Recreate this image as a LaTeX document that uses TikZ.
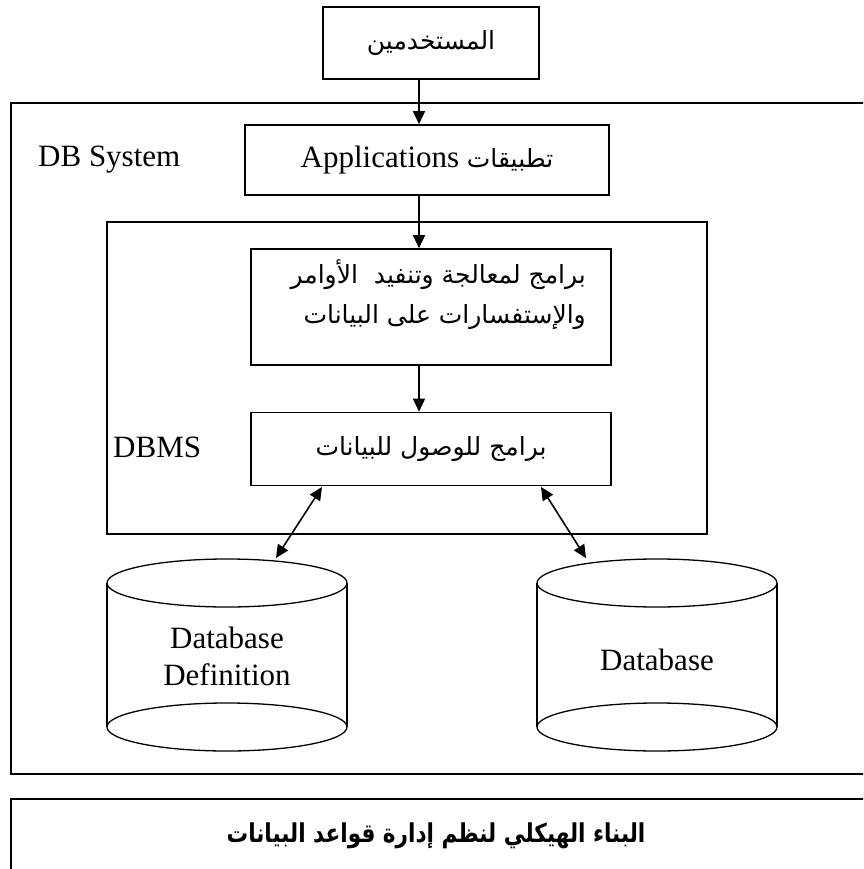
\documentclass[tikz,border=0pt]{standalone}
\usepackage{fontspec}
\setmainfont{Liberation Serif}
\newfontfamily\arabicfont[Script=Arabic]{DejaVu Sans}
\newfontfamily\arabicheadfont[Script=Arabic, FakeStretch=0.83]{DejaVu Sans}
\TeXXeTstate=1
\usetikzlibrary{arrows.meta}

\begin{document}
\begin{tikzpicture}[x=1pt,y=-1pt,
  frame/.style={draw, line width=1.8pt},
  box/.style={draw, line width=1.6pt, rectangle, inner sep=0pt},
  cyl/.style={draw, line width=1.3pt},
  arr/.style={line width=1.6pt, -{Triangle[length=13pt,width=12pt]}},
  darr/.style={line width=1.6pt, {Triangle[length=13pt,width=12pt]}-{Triangle[length=13pt,width=12pt]}},
  lat/.style={font=\fontsize{31}{37}\selectfont, inner sep=0pt},
  ar/.style={font=\fontsize{25}{40}\arabicfont, inner sep=0pt},
  arb/.style={font=\fontsize{26}{40}\arabicheadfont\bfseries, inner sep=0pt},
]
\useasboundingbox (0,0) rectangle (863,869);
\clip (0,0) rectangle (863,869);

% outer system frame and caption frame (both run past the right edge)
\draw[frame] (11,103) rectangle (900,774);
\draw[frame] (11,799) rectangle (900,920);

% DBMS frame
\draw[frame] (107,222) rectangle (707,534);

% boxes
\node[box, minimum width=216pt, minimum height=72pt] (users) at (431,43) {};
\node[ar] at (users.center) {\beginR المستخدمين\endR};

\node[box, minimum width=364pt, minimum height=70pt] (apps) at (427,160) {};
\node[lat] (appstext) at (apps.center) {Applications {\fontsize{25}{30}\arabicfont\beginR تطبيقات\endR}};

\node[box, minimum width=360pt, minimum height=116pt] (proc) at (431,307) {};
\node[ar, align=right, anchor=north east, font=\fontsize{25}{40}\arabicfont] (proctext) at (586,259)
  {\beginR برامج لمعالجة وتنفيد\ \ الأوامر\endR\\\beginR والإستفسارات على البيانات\endR};

\node[box, minimum width=360pt, minimum height=73pt] (access) at (431,449) {};
\node[ar] at (access.center) {\beginR برامج للوصول للبيانات\endR};

% side labels
\node[lat, anchor=west] (dbsys) at (38,160) {DB System};
\node[lat, anchor=west] (dbms) at (113,447) {DBMS};

% vertical arrows
\coordinate (ax) at (419,0);
\draw[arr] (users.south -| ax) -- (apps.north -| ax);
\draw[arr] (apps.south -| ax) -- (proc.north -| ax);
\draw[arr] (proc.south -| ax) -- (access.north -| ax);

% cylinders
\foreach \cx in {227, 657}{
  \draw[cyl] (\cx-120,583) -- (\cx-120,727);
  \draw[cyl] (\cx+120,583) -- (\cx+120,727);
  \draw[cyl, fill=white] (\cx,583) ellipse [x radius=120, y radius=24];
  \draw[cyl] (\cx,727) ellipse [x radius=120, y radius=24];
}
\node[lat, align=center] (deftext) at (227,656) {Database\\Definition};
\node[lat] (datatext) at (657,660) {Database};

% two-way links between access programs and the stores
\coordinate (accL) at (322,487);
\coordinate (accR) at (541,487);
\coordinate (defTop) at (276,558);
\coordinate (dataTop) at (586,558);
\draw[darr] (accL) -- (defTop);
\draw[darr] (accR) -- (dataTop);

% caption
\node[arb] (caption) at (436,836) {\beginR البناء الهيكلي لنظم إدارة قواعد البيانات\endR};
\end{tikzpicture}
\end{document}
